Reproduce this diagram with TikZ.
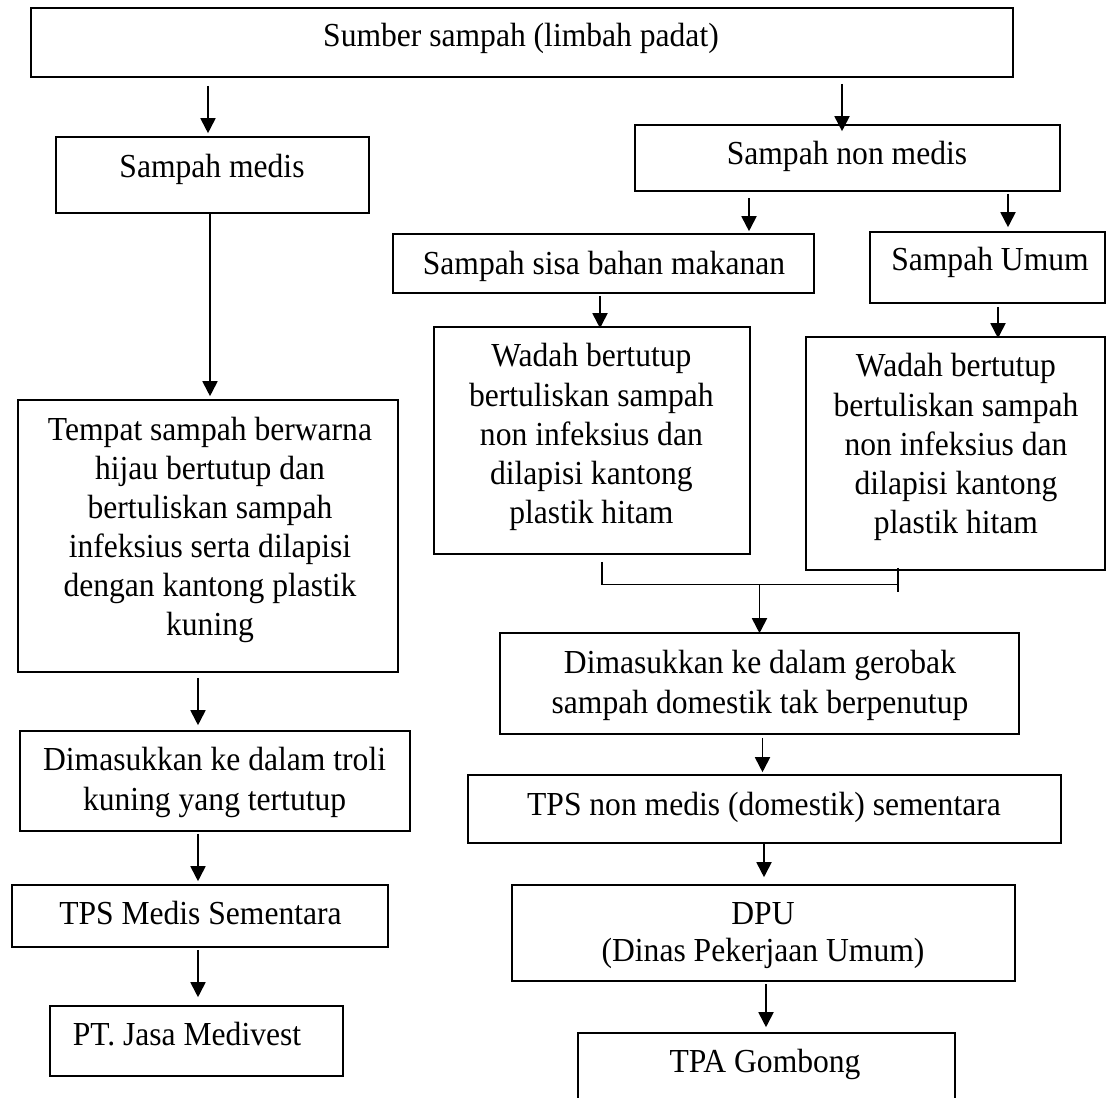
\documentclass[tikz,border=0pt]{standalone}
\usepackage{fontspec}
\setmainfont{Liberation Serif}[FakeStretch=0.94]
\usetikzlibrary{arrows.meta}
\begin{document}
\begin{tikzpicture}[x=1pt,y=-1pt,
  box/.style={draw, line width=1.6pt, rectangle, inner sep=0pt},
  txt/.style={font=\fontsize{33.6}{39.5}\selectfont, inner sep=0pt, align=center},
  arr/.style={line width=1.8pt, -{Triangle[length=15pt,width=15pt]}},
  joinline/.style={line width=1.1pt}]
\useasboundingbox (0,0) rectangle (1107,1097);
\clip (0,0) rectangle (1107,1097);

% ---------- boxes ----------
\node[box, minimum width=982pt, minimum height=69pt]  (src)     at (522,42.5)   {};
\node[box, minimum width=313pt, minimum height=76pt]  (medis)   at (212.5,175)  {};
\node[box, minimum width=425pt, minimum height=66pt]  (nonmedis) at (847.5,158) {};
\node[box, minimum width=421pt, minimum height=59pt]  (sisa)    at (603.5,263.5) {};
\node[box, minimum width=235pt, minimum height=71pt]  (umum)    at (987.5,267.5) {};
\node[box, minimum width=316pt, minimum height=227pt] (wadahA)  at (592,440.5)  {};
\node[box, minimum width=299pt, minimum height=233pt] (wadahB)  at (955.5,453.5) {};
\node[box, minimum width=380pt, minimum height=272pt] (tempat)  at (208,536)    {};
\node[box, minimum width=390pt, minimum height=100pt] (troli)   at (215,781)    {};
\node[box, minimum width=376pt, minimum height=62pt]  (tpsmed)  at (200,916)    {};
\node[box, minimum width=293pt, minimum height=70pt]  (jasa)    at (196.5,1041) {};
\node[box, minimum width=519pt, minimum height=101pt] (gerobak) at (759.5,683.5) {};
\node[box, minimum width=593pt, minimum height=68pt]  (tpsnon)  at (764.5,809)  {};
\node[box, minimum width=503pt, minimum height=96pt]  (dpu)     at (763.5,933)  {};
\node[box, minimum width=377pt, minimum height=72pt]  (tpa)     at (766.5,1069) {};

% ---------- labels ----------
\node[txt, anchor=base] (src-t)      at (521,47)     {Sumber sampah (limbah padat)};
\node[txt, anchor=base] (medis-t)    at (212,177.5)  {Sampah medis};
\node[txt, anchor=base] (nonmedis-t) at (847,164)    {Sampah non medis};
\node[txt, anchor=base] (sisa-t)     at (604,274)    {Sampah sisa bahan makanan};
\node[txt, anchor=base] (umum-t)     at (990,270.7)  {Sampah Umum};
\node[txt, font=\fontsize{33.6}{39.15}\selectfont] (wadahA-t) at (591.4,437.2)
  {Wadah bertutup\\bertuliskan sampah\\non infeksius dan\\dilapisi kantong\\plastik hitam};
\node[txt, font=\fontsize{33.6}{39.15}\selectfont] (wadahB-t) at (956,447.2)
  {Wadah bertutup\\bertuliskan sampah\\non infeksius dan\\dilapisi kantong\\plastik hitam};
\node[txt, font=\fontsize{33.6}{39}\selectfont] (tempat-t) at (210,529.6)
  {Tempat sampah berwarna\\hijau bertutup dan\\bertuliskan sampah\\infeksius serta dilapisi\\dengan kantong plastik\\kuning};
\node[txt, font=\fontsize{33.6}{39.3}\selectfont] (troli-t) at (214.6,782.6)
  {Dimasukkan ke dalam troli\\kuning yang tertutup};
\node[txt, anchor=base] (tpsmed-t)   at (200.5,924)  {TPS Medis Sementara};
\node[txt, anchor=base] (jasa-t)     at (187,1045)   {PT. Jasa Medivest};
\node[txt, font=\fontsize{33.6}{40}\selectfont] (gerobak-t) at (760,685.5)
  {Dimasukkan ke dalam gerobak\\sampah domestik tak berpenutup};
\node[txt, anchor=base] (tpsnon-t)   at (764,815)    {TPS non medis (domestik) sementara};
\node[txt, font=\fontsize{33.6}{36.7}\selectfont] (dpu-t) at (763,935.3)
  {DPU\\(Dinas Pekerjaan Umum)};
\node[txt, anchor=base] (tpa-t)      at (765,1072.7) {TPA Gombong};

% ---------- connectors ----------
\draw[arr] ([xshift=-314pt,yshift=-8pt]src.south)   -- ([xshift=-4.5pt,yshift=3pt]medis.north);
\draw[arr] ([xshift=320pt,yshift=-6pt]src.south)    -- ([xshift=-5.5pt,yshift=-7pt]nonmedis.north);
\draw[arr] ([xshift=-98.5pt,yshift=-6pt]nonmedis.south) -- ([xshift=145.5pt,yshift=2pt]sisa.north);
\draw[arr] ([xshift=160.5pt,yshift=-2pt]nonmedis.south) -- ([xshift=20.5pt,yshift=4pt]umum.north);
\draw[arr] ([xshift=-3.5pt,yshift=-2pt]sisa.south)  -- ([xshift=8pt,yshift=-2pt]wadahA.north);
\draw[arr] ([xshift=10.5pt,yshift=-3pt]umum.south)  -- ([xshift=42.5pt,yshift=-2pt]wadahB.north);
\draw[arr] ([xshift=-2.5pt]medis.south)             -- ([xshift=2pt,yshift=3pt]tempat.north);
\draw[arr] ([xshift=-10pt,yshift=-5pt]tempat.south) -- ([xshift=-17pt,yshift=5pt]troli.north);
\draw[arr] ([xshift=-17pt,yshift=-2pt]troli.south)  -- ([xshift=-2pt,yshift=3pt]tpsmed.north);
\draw[arr] ([xshift=-2pt,yshift=-2pt]tpsmed.south)  -- ([xshift=1.5pt,yshift=8pt]jasa.north);

% joining bracket under the two containers
\coordinate (merge) at ([yshift=-14pt]wadahB.south -| gerobak.north);
\draw[joinline] ([xshift=10pt,yshift=-7pt]wadahA.south) |- ([xshift=-57.5pt,yshift=-14pt]wadahB.south);
\draw[joinline] ([xshift=-57.5pt,yshift=3pt]wadahB.south) -- ([xshift=-57.5pt,yshift=-21pt]wadahB.south);
\draw[arr] (merge) -- ([yshift=-1pt]gerobak.north);

\draw[arr] ([xshift=3pt,yshift=-3pt]gerobak.south)  -- ([xshift=-2pt,yshift=2pt]tpsnon.north);
\draw[arr] ([xshift=-0.5pt]tpsnon.south)            -- ([xshift=0.5pt,yshift=7pt]dpu.north);
\draw[arr] ([xshift=2.5pt,yshift=-2pt]dpu.south)    -- ([xshift=-0.5pt,yshift=5pt]tpa.north);
\end{tikzpicture}
\end{document}
